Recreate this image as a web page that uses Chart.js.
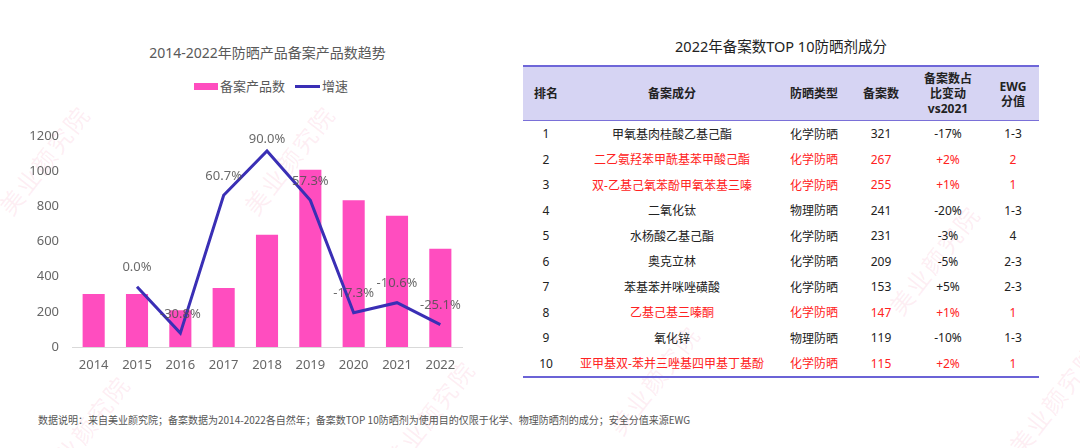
<!DOCTYPE html>
<html>
<head>
<meta charset="utf-8">
<script src="https://cdn.jsdelivr.net/npm/chart.js@4.4.0/dist/chart.umd.min.js"></script>
<style>
  html, body { margin: 0; padding: 0; background: #fff; }
  body { width: 1080px; height: 448px; position: relative; overflow: hidden;
         font-family: 'Noto Sans', 'Noto Sans CJK SC', sans-serif; }
  .wm { position: absolute; color: rgba(245, 120, 165, 0.13); font-size: 24px;
        transform: rotate(-52deg); transform-origin: left top; white-space: nowrap;
        font-family: 'Noto Sans CJK SC', sans-serif; letter-spacing: 2px; }
  #chartTitle { position: absolute; left: 0; width: 535px; top: 43px; text-align: center;
                font-size: 14px; color: #595959; line-height: 20px; }
  .lg { position: absolute; font-size: 13px; color: #595959; line-height: 18px; top: 77px;
        font-family: 'Noto Sans CJK SC', sans-serif; }
  #chartBox { position: absolute; left: 0; top: 110px; width: 480px; height: 267px; }
  #tblTitle { position: absolute; left: 523px; width: 516px; top: 36px; text-align: center;
              font-size: 14.5px; color: #222; line-height: 20px; }
  table { position: absolute; left: 523px; top: 65px; width: 516px; border-collapse: collapse;
          table-layout: fixed; font-size: 12px; color: #222; }
  thead th { background: #d6d4f3; font-weight: bold; height: 53px; line-height: 15px;
             border-top: 2px solid #6e66d8; border-bottom: 1.5px solid #7a70d8; padding: 0; }
  tbody td { height: 25.5px; padding: 0; text-align: center; }
  tbody tr:last-child td { border-bottom: 2px solid #6b63d6; }
  .red td { color: #ff2222; }
  .red td:first-child { color: #222; }
  #note { position: absolute; left: 38px; top: 413px; font-size: 10px; color: #555; line-height: 14px;
          white-space: nowrap; font-family: 'Noto Sans CJK SC', sans-serif; }
</style>
</head>
<body>
<span class="wm" style="left:-10px; top:200px;">美业颜究院</span>
<span class="wm" style="left:235px; top:200px;">美业颜究院</span>
<span class="wm" style="left:30px; top:470px;">美业颜究院</span>
<span class="wm" style="left:375px; top:455px;">美业颜究院</span>
<span class="wm" style="left:600px; top:420px;">美业颜究院</span>
<span class="wm" style="left:880px; top:300px;">美业颜究院</span>
<span class="wm" style="left:1000px; top:440px;">美业颜究院</span>

<div id="chartTitle">2014-2022年防晒产品备案产品数趋势</div>
<div style="position:absolute; left:194px; top:83px; width:24px; height:7px; background:#ff4dbf;"></div>
<div class="lg" style="left:220px;">备案产品数</div>
<div style="position:absolute; left:295px; top:85px; width:25px; height:3px; background:#3a2fb5;"></div>
<div class="lg" style="left:322px;">增速</div>
<div id="chartBox"><canvas id="c"></canvas></div>

<div id="tblTitle">2022年备案数TOP 10防晒剂成分</div>
<table id="tbl">
  <colgroup>
    <col style="width:46px"><col style="width:206px"><col style="width:78px">
    <col style="width:56px"><col style="width:78px"><col style="width:52px">
  </colgroup>
  <thead><tr id="head"></tr></thead>
  <tbody id="body"></tbody>
</table>

<div id="note">数据说明：来自美业颜究院；备案数据为2014-2022各自然年；备案数TOP 10防晒剂为使用目的仅限于化学、物理防晒剂的成分；安全分值来源EWG</div>

<script>
// chart data
const years = ['2014', '2015', '2016', '2017', '2018', '2019', '2020', '2021', '2022'];
const filings = [302, 302, 209, 336, 639, 1008, 834, 746, 559];
const growth = [null, 0.0, -30.8, 60.7, 90.0, 57.3, -17.3, -10.6, -25.1];
const yTicks = [0, 200, 400, 600, 800, 1000, 1200];

// table data
const tableHead = ['排名', '备案成分', '防晒类型', '备案数', '备案数占<br>比变动<br>vs2021', 'EWG<br>分值'];
const ranks = [1, 2, 3, 4, 5, 6, 7, 8, 9, 10];
const ingredients = ['甲氧基肉桂酸乙基己酯', '二乙氨羟苯甲酰基苯甲酸己酯', '双-乙基己氧苯酚甲氧苯基三嗪', '二氧化钛',
  '水杨酸乙基己酯', '奥克立林', '苯基苯并咪唑磺酸', '乙基己基三嗪酮', '氧化锌', '亚甲基双-苯并三唑基四甲基丁基酚'];
const sunTypes = ['化学防晒', '化学防晒', '化学防晒', '物理防晒', '化学防晒', '化学防晒', '化学防晒', '化学防晒', '物理防晒', '化学防晒'];
const counts = [321, 267, 255, 241, 231, 209, 153, 147, 119, 115];
const shareChange = ['-17%', '+2%', '+1%', '-20%', '-3%', '-5%', '+5%', '+1%', '-10%', '+2%'];
const ewg = ['1-3', '2', '1', '1-3', '4', '2-3', '2-3', '1', '1-3', '1'];
const highlighted = [2, 3, 8, 10];

document.getElementById('head').innerHTML = tableHead.map((h) => `<th>${h}</th>`).join('');
document.getElementById('body').innerHTML = ranks.map((r, i) => {
  const cls = highlighted.includes(r) ? ' class="red"' : '';
  return `<tr${cls}><td>${r}</td><td>${ingredients[i]}</td><td>${sunTypes[i]}</td>`
    + `<td>${counts[i]}</td><td>${shareChange[i]}</td><td>${ewg[i]}</td></tr>`;
}).join('');

// growth labels above the line points
const lineLabels = {
  id: 'lineLabels',
  afterDatasetsDraw(chart) {
    const { ctx, chartArea } = chart;
    const meta = chart.getDatasetMeta(0);
    ctx.save();
    ctx.font = '13px "Noto Sans", "Noto Sans CJK SC"';
    ctx.fillStyle = 'rgba(80,80,80,0.85)';
    ctx.textAlign = 'center';
    ctx.textBaseline = 'middle';
    meta.data.forEach((pt, i) => {
      if (growth[i] === null) return;
      const y = Math.max(pt.y - 19, chartArea.top + 3);
      ctx.fillText(growth[i].toFixed(1) + '%', pt.x, y);
    });
    ctx.restore();
  },
};

new Chart(document.getElementById('c'), {
  data: {
    labels: years,
    datasets: [
      {
        type: 'line',
        label: '增速',
        data: growth,
        yAxisID: 'y2',
        borderColor: '#3a2fb5',
        borderWidth: 3,
        pointRadius: 0,
        tension: 0,
        order: 0,
      },
      {
        type: 'bar',
        label: '备案产品数',
        data: filings,
        backgroundColor: '#ff4dbf',
        barPercentage: 0.51,
        categoryPercentage: 1,
        order: 1,
      },
    ],
  },
  options: {
    responsive: true,
    maintainAspectRatio: false,
    animation: false,
    layout: { padding: { top: 26, right: 18, left: 0, bottom: 0 } },
    plugins: { legend: { display: false }, tooltip: { enabled: false } },
    scales: {
      x: {
        grid: { display: true, drawOnChartArea: false, drawTicks: false },
        border: { color: '#d9d9d9' },
        ticks: { color: '#666', padding: 10, font: { size: 13, family: '"Noto Sans"' } },
        afterFit: (s) => { s.height = 30; },
      },
      y: {
        min: 0,
        max: 1200,
        grid: { display: false, drawTicks: false },
        border: { display: false },
        afterBuildTicks: (s) => { s.ticks = yTicks.map((v) => ({ value: v })); },
        ticks: {
          color: '#666',
          padding: 13,
          font: { size: 13, family: '"Noto Sans"' },
          callback: (v) => String(v),
        },
        afterFit: (s) => { s.width = 72; },
      },
      y2: { display: false, min: -40, max: 100 },
    },
  },
  plugins: [lineLabels],
});
</script>
</body>
</html>
